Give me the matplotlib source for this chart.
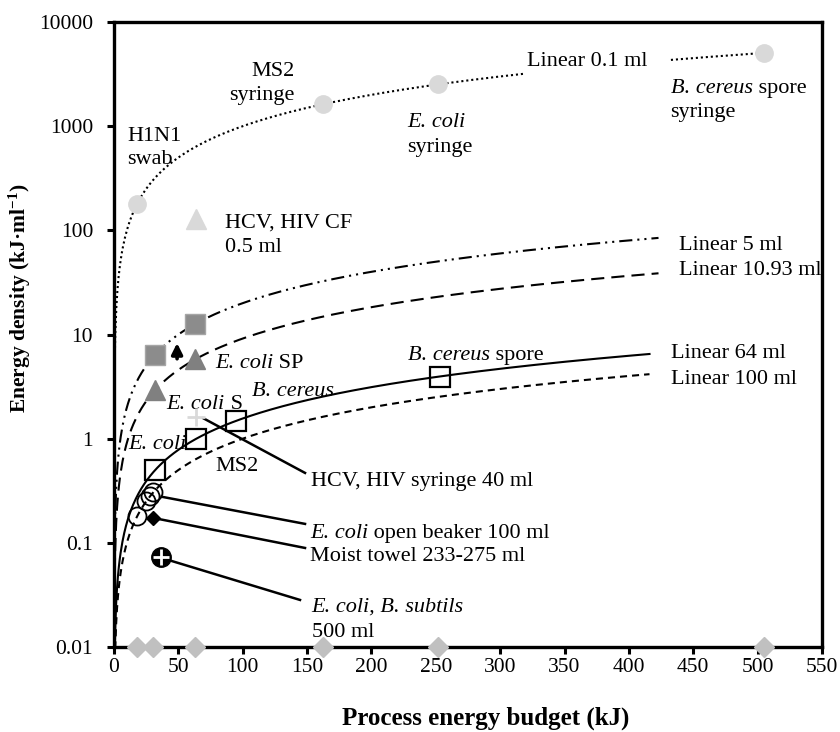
import numpy as np
import matplotlib.pyplot as plt

plt.rcParams['font.family'] = ['Liberation Serif', 'DejaVu Serif']
plt.rcParams['mathtext.fontset'] = 'custom'
plt.rcParams['mathtext.rm'] = 'Liberation Serif'
plt.rcParams['mathtext.it'] = 'Liberation Serif:italic'
plt.rcParams['mathtext.bf'] = 'Liberation Serif:bold'

# ==========================================
# 1. data (kJ, kJ/ml)
# ==========================================
syringe_x = [18, 162, 252, 505]          # 0.1 ml syringes (light grey circles)
syringe_y = [180, 1620, 2520, 5050]
base_x = [18, 30, 63, 162, 252, 505]     # diamonds on the 0.01 axis
base_y = [0.01, 0.01, 0.01, 0.01, 0.01, 0.01]
cf_x, cf_y = [64], [128]                 # HCV, HIV CF 0.5 ml
sq5_x, sq5_y = [32, 63], [6.4, 12.6]     # 5 ml
tri_x, tri_y = [32, 63], [2.93, 5.76]    # 10.93 ml
osq_x = [32, 64, 95, 253]                # 64 ml
osq_y = [0.5, 1.0, 1.48, 3.95]
plus_x, plus_y = [64], [1.6]             # HCV, HIV syringe 40 ml
beaker_x = [18, 25, 28, 30.5]            # open beaker 100 ml
beaker_y = [0.18, 0.25, 0.28, 0.305]
towel_x, towel_y = [30.5], [0.175]
big_x, big_y = [36.5], [0.073]           # 500 ml
arrow_x, arrow_y0, arrow_y1 = 49, 5.5, 8.8

# linear trend lines  y = E / V
volumes = [0.1, 5, 10.93, 64, 100]
trend_end = [505, 423, 423, 416, 416]
trend_ls = [(0, (1, 1.4)), (0, (6.3, 2.4, 1, 2.4, 1, 2.4)), (0, (6.3, 3.4)), '-', (0, (3.4, 2.4))]
gap_01 = (320, 432)   # part of 0.1 ml line hidden behind its label

fig = plt.figure(figsize=(8.4, 7.32), dpi=100)
ax = fig.add_axes([114/840, 1-647/732, 708/840, 625/732])

# ==========================================
# 2. trend lines
# ==========================================
for V, xe, ls in zip(volumes, trend_end, trend_ls):
    xx = np.concatenate([np.geomspace(1e-4, 1, 200), np.linspace(1, xe, 600)])
    yy = xx / V
    if V == 0.1:
        yy = np.where((xx > gap_01[0]) & (xx < gap_01[1]), np.nan, yy)
    ax.plot(xx, yy, color='black', lw=1.5, linestyle=ls, zorder=2)

# ==========================================
# 3. markers
# ==========================================
kw = dict(linestyle='none', clip_on=False, zorder=4)
ax.plot(syringe_x, syringe_y, marker='o', ms=12.5, mfc='#d9d9d9', mec='#d9d9d9', **kw)
ax.plot(base_x, base_y, marker='D', ms=10.5, mfc='#c0c0c0', mec='#c0c0c0', **kw)
ax.plot(cf_x, cf_y, marker='^', ms=14, mfc='#d9d9d9', mec='#d9d9d9', **kw)
ax.plot(sq5_x, sq5_y, marker='s', ms=14, mfc='#8c8c8c', mec='#a6a6a6', **kw)
ax.plot(tri_x, tri_y, marker='^', ms=15, mfc='#808080', mec='#808080', **kw)
ax.plot(osq_x, osq_y, marker='s', ms=14, mfc='none', mec='black', mew=1.6, **kw)
ax.plot(plus_x, plus_y, marker='+', ms=13, mec='#d9d9d9', mew=2, **kw)
ax.plot(beaker_x, beaker_y, marker='o', ms=13, mfc='none', mec='black', mew=1.3, **kw)
ax.plot(towel_x, towel_y, marker='D', ms=7.5, mfc='black', mec='black', **kw)
ax.plot(big_x, big_y, marker='o', ms=14, mfc='black', mec='black', **kw)
ax.plot(big_x, big_y, marker='+', ms=12, mec='white', mew=2, **kw)

ax.annotate('', xy=(arrow_x, arrow_y1), xytext=(arrow_x, arrow_y0),
            arrowprops=dict(arrowstyle='-|>', color='black', lw=2.6, mutation_scale=16))

# ==========================================
# 4. labels
# ==========================================
fs = 16
lsp = 1.35


def mixed(x, y, ital, rest=''):
    # italic species name followed by upright text on the same baseline
    t = ax.text(x, y, ital, fontsize=fs, style='italic', va='baseline', ha='left')
    if rest:
        ax.annotate(rest, xy=(1, 0), xycoords=t, fontsize=fs, va='bottom', ha='left')
    return t


def base(yc):
    # baseline value for a label whose visual centre is yc (log axis, ~6 px)
    return yc / 10 ** (6 / 104.2)


ax.text(10.1, 617, 'H1N1\nswab', fontsize=fs, va='center', ha='left', linespacing=lsp)
ax.text(140, 2580, 'MS2\nsyringe', fontsize=fs, va='center', ha='right',
        multialignment='right', linespacing=lsp)
mixed(227.6, base(1130), 'E. coli')
ax.text(227.6, base(650), 'syringe', fontsize=fs, va='baseline', ha='left')
mixed(432.4, base(2380), 'B. cereus', ' spore')
ax.text(432.4, base(1400), 'syringe', fontsize=fs, va='baseline', ha='left')
ax.text(414.8, 4160, 'Linear 0.1 ml', fontsize=fs, va='center', ha='right')
ax.text(86, 90, 'HCV, HIV CF\n0.5 ml', fontsize=fs, va='center', ha='left', linespacing=lsp)
ax.text(439, 72.3, 'Linear 5 ml', fontsize=fs, va='center', ha='left')
ax.text(439, 41.6, 'Linear 10.93 ml', fontsize=fs, va='center', ha='left')
ax.text(432.4, 6.5, 'Linear 64 ml', fontsize=fs, va='center', ha='left')
ax.text(432.4, 3.72, 'Linear 100 ml', fontsize=fs, va='center', ha='left')
mixed(78.5, base(5.48), 'E. coli', ' SP')
mixed(107, base(2.93), 'B. cereus')
mixed(40.9, base(2.18), 'E. coli', ' S')
mixed(11.1, base(0.90), 'E. coli')
ax.text(78.5, 0.538, 'MS2', fontsize=fs, va='center', ha='left')
mixed(228.6, base(6.5), 'B. cereus', ' spore')

# labels with leader lines
leaders = [
    ((69.4, 1.57), (148.4, 0.469)),
    ((37, 0.277), (148.4, 0.152)),
    ((32, 0.172), (148.4, 0.0893)),
    ((38, 0.071), (144.5, 0.0283)),
]
for p0, p1 in leaders:
    ax.plot([p0[0], p1[0]], [p0[1], p1[1]], color='black', lw=1.8, zorder=3)
ax.text(152.8, 0.386, 'HCV, HIV syringe 40 ml', fontsize=fs, va='center', ha='left')
mixed(152.3, base(0.128), 'E. coli', ' open beaker 100 ml')
ax.text(152.3, 0.0736, 'Moist towel 233-275 ml', fontsize=fs, va='center', ha='left')
mixed(153.6, base(0.0248), 'E. coli, B. subtils')
ax.text(153.6, 0.0137, '500 ml', fontsize=fs, va='center', ha='left')

# ==========================================
# 5. axes
# ==========================================
ax.set_yscale('log')
ax.set_xlim(0, 550)
ax.set_ylim(0.01, 10000)
ax.set_xticks(np.arange(0, 551, 50))
ax.set_yticks([0.01, 0.1, 1, 10, 100, 1000, 10000])
ax.set_yticklabels(['0.01', '0.1', '1', '10', '100', '1000', '10000'])
ax.yaxis.set_minor_locator(plt.NullLocator())
ax.tick_params(axis='both', which='major', labelsize=15.5, length=5, width=2.2, direction='out')
ax.tick_params(axis='y', pad=10)
ax.tick_params(axis='x', pad=3)
for s in ax.spines.values():
    s.set_linewidth(2.4)

ax.set_xlabel('Process energy budget (kJ)', fontsize=18, fontweight='bold')
ax.set_ylabel('Energy density (kJ·ml$^{\\mathbf{-1}}$)', fontsize=15.5, fontweight='bold')
ax.xaxis.label.set_va('center')
ax.xaxis.set_label_coords(0.525, -0.114)
ax.yaxis.set_label_coords(-0.115, 0.558)

plt.savefig('out.png', dpi=100)
